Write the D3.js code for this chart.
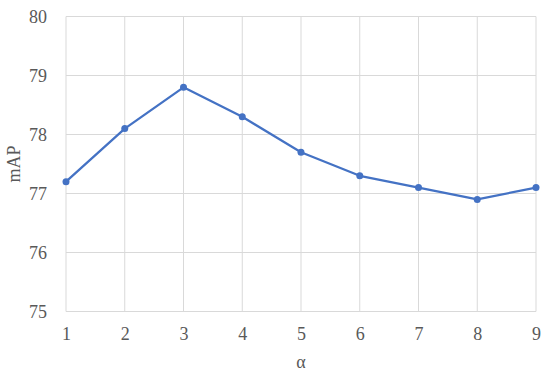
<!DOCTYPE html>
<html>
<head>
<meta charset="utf-8">
<script src="https://cdn.jsdelivr.net/npm/d3@7"></script>
<style>
  body { margin: 0; background: #fff; }
  svg text { font-family: 'Liberation Serif', 'Times New Roman', 'DejaVu Serif', serif; }
</style>
</head>
<body>
<div id="chart"></div>
<script>
const alphas = [1, 2, 3, 4, 5, 6, 7, 8, 9]
const mapValues = [77.2, 78.1, 78.8, 78.3, 77.7, 77.3, 77.1, 76.9, 77.1]
const yTicks = [75, 76, 77, 78, 79, 80]

const width = 550, height = 379
const margin = { top: 16.5, right: 14, bottom: 67.5, left: 66 }
const innerW = width - margin.left - margin.right
const innerH = height - margin.top - margin.bottom
const serif = "'Liberation Serif', 'Times New Roman', 'DejaVu Serif', serif"

const svg = d3.select('#chart').append('svg')
  .attr('width', width).attr('height', height)

const g = svg.append('g').attr('transform', `translate(${margin.left},${margin.top})`)

const x = d3.scaleLinear().domain([1, 9]).range([0, innerW])
const y = d3.scaleLinear().domain([75, 80]).range([innerH, 0])

// grid
g.append('g').selectAll('line').data(alphas).join('line')
  .attr('x1', (d) => x(d)).attr('x2', (d) => x(d))
  .attr('y1', 0).attr('y2', innerH)
  .attr('stroke', '#d9d9d9').attr('stroke-width', 1)
g.append('g').selectAll('line').data(yTicks).join('line')
  .attr('x1', 0).attr('x2', innerW)
  .attr('y1', (d) => y(d)).attr('y2', (d) => y(d))
  .attr('stroke', '#d9d9d9').attr('stroke-width', 1)

// axes (labels only)
const yAxis = g.append('g')
  .call(d3.axisLeft(y).tickValues(yTicks).tickFormat(d3.format('d')).tickSize(0).tickPadding(19))
  .attr('font-family', serif).attr('font-size', 18)
yAxis.select('.domain').remove()
yAxis.selectAll('text').attr('fill', '#595959')

const xAxis = g.append('g').attr('transform', `translate(0,${innerH})`)
  .call(d3.axisBottom(x).tickValues(alphas).tickFormat(d3.format('d')).tickSize(0).tickPadding(16))
  .attr('font-family', serif).attr('font-size', 18)
xAxis.select('.domain').remove()
xAxis.selectAll('text').attr('fill', '#595959')

// line
const line = d3.line().x((d, i) => x(alphas[i])).y((d) => y(d))
g.append('path').datum(mapValues)
  .attr('fill', 'none').attr('stroke', '#4472c4').attr('stroke-width', 2.25)
  .attr('stroke-linejoin', 'round').attr('d', line)
g.selectAll('.dot').data(mapValues).join('circle')
  .attr('cx', (d, i) => x(alphas[i])).attr('cy', (d) => y(d))
  .attr('r', 3.5).attr('fill', '#4472c4')

// axis titles
svg.append('text').attr('x', margin.left + innerW / 2).attr('y', 368)
  .attr('text-anchor', 'middle').attr('font-size', 18).attr('fill', '#595959').text('α')
svg.append('text').attr('transform', `translate(20,${margin.top + innerH / 2}) rotate(-90)`)
  .attr('text-anchor', 'middle').attr('font-size', 18).attr('fill', '#595959').text('mAP')
</script>
</body>
</html>
